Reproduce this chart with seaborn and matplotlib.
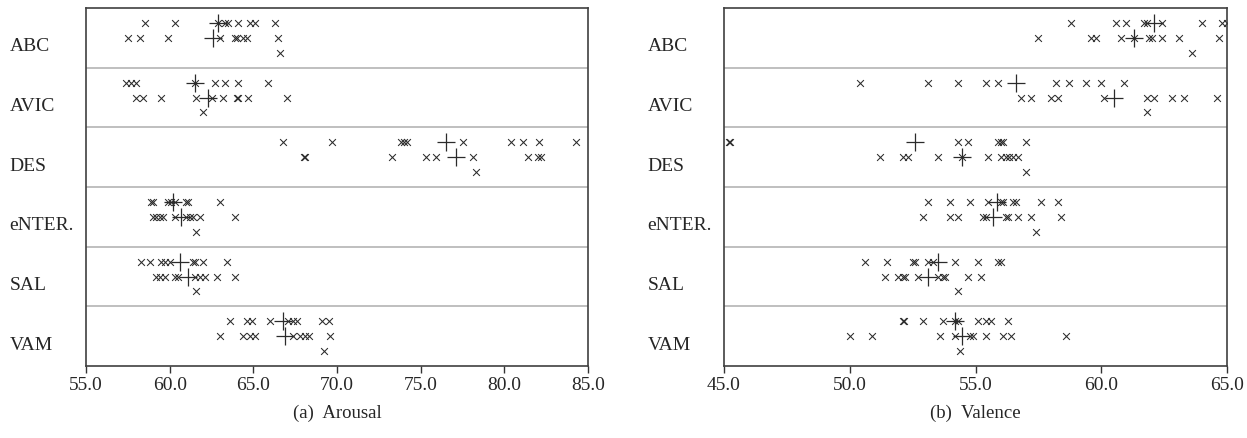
import numpy as np
import pandas as pd
import matplotlib
matplotlib.use('Agg')
import matplotlib.pyplot as plt
import seaborn as sns

categories = ['ABC', 'AVIC', 'DES', 'eNTER.', 'SAL', 'VAM']

# individual results (x markers), three rows per category
arousal_points = {
    'ABC':    [[58.5, 60.3, 62.9, 63.3, 63.5, 64.1, 64.8, 65.1, 66.3],
               [57.5, 58.2, 59.9, 63.0, 63.9, 64.0, 64.4, 64.6, 66.5],
               [66.6]],
    'AVIC':   [[57.4, 57.7, 58.0, 61.5, 62.7, 63.3, 64.1, 65.9],
               [58.0, 58.4, 59.5, 61.6, 62.5, 63.2, 64.0, 64.1, 64.7, 67.0],
               [62.0]],
    'DES':    [[66.8, 69.7, 73.8, 74.0, 74.2, 77.5, 80.4, 81.1, 82.1, 84.3],
               [68.0, 68.1, 73.3, 75.3, 75.9, 78.1, 81.4, 82.0, 82.2],
               [78.3]],
    'eNTER.': [[58.9, 59.0, 59.9, 60.1, 60.3, 61.0, 61.1, 63.0],
               [59.0, 59.2, 59.4, 59.6, 60.3, 61.0, 61.2, 61.4, 61.8, 63.9],
               [61.6]],
    'SAL':    [[58.3, 58.8, 59.5, 59.7, 60.0, 61.4, 61.5, 62.0, 63.4],
               [59.2, 59.4, 59.7, 60.3, 60.5, 61.5, 61.8, 62.1, 62.8, 63.9],
               [61.6]],
    'VAM':    [[63.6, 64.6, 64.9, 66.0, 67.1, 67.4, 67.6, 69.1, 69.5],
               [63.0, 64.4, 64.8, 65.1, 67.4, 67.8, 68.1, 68.3, 69.6],
               [69.2]],
}
# averages (+ markers), rows 1 and 2
arousal_means = {
    'ABC': [62.9, 62.6], 'AVIC': [61.5, 62.3], 'DES': [76.5, 77.1],
    'eNTER.': [60.2, 60.7], 'SAL': [60.6, 61.1], 'VAM': [66.8, 66.9],
}

valence_points = {
    'ABC':    [[58.8, 60.6, 61.0, 61.7, 61.8, 62.4, 64.0, 64.8, 65.0],
               [57.5, 59.6, 59.8, 60.8, 61.3, 61.9, 62.0, 62.4, 63.1, 64.7],
               [63.6]],
    'AVIC':   [[50.4, 53.1, 54.3, 55.4, 55.9, 58.2, 58.7, 59.4, 60.0, 60.9],
               [56.8, 57.2, 58.0, 58.3, 60.1, 61.8, 62.1, 62.8, 63.3, 64.6],
               [61.8]],
    'DES':    [[45.2, 45.25, 54.3, 54.7, 55.9, 56.0, 56.1, 57.0],
               [51.2, 52.1, 52.3, 53.5, 54.45, 55.5, 56.0, 56.2, 56.35, 56.5, 56.7],
               [57.0]],
    'eNTER.': [[53.1, 54.0, 54.8, 55.5, 56.0, 56.1, 56.5, 56.6, 57.6, 58.3],
               [52.9, 54.0, 54.3, 55.3, 55.4, 56.2, 56.3, 56.7, 57.2, 58.4],
               [57.4]],
    'SAL':    [[50.6, 51.5, 52.5, 52.6, 53.1, 53.3, 54.2, 55.1, 55.9, 56.0],
               [51.4, 51.9, 52.1, 52.2, 52.7, 53.5, 53.7, 53.8, 54.7, 55.2],
               [54.3]],
    'VAM':    [[52.1, 52.15, 52.9, 53.7, 54.2, 54.3, 55.1, 55.4, 55.6, 56.3],
               [50.0, 50.9, 53.6, 54.2, 54.8, 54.9, 55.4, 56.1, 56.4, 58.6],
               [54.4]],
}
valence_means = {
    'ABC': [62.1, 61.3], 'AVIC': [56.6, 60.5], 'DES': [52.6, 54.45],
    'eNTER.': [55.85, 55.7], 'SAL': [53.5, 53.1], 'VAM': [54.2, 54.45],
}

arousal_ticks = [55.0, 60.0, 65.0, 70.0, 75.0, 80.0, 85.0]
valence_ticks = [45.0, 50.0, 55.0, 60.0, 65.0]
captions = ['(a)  Arousal', '(b)  Valence']

row_offset = [-0.25, 0.0, 0.25]


def to_frame(points, means):
    recs = []
    for ci, cat in enumerate(categories):
        for ri, row in enumerate(points[cat]):
            for v in row:
                recs.append({'cat': cat, 'value': v, 'y': ci + row_offset[ri], 'kind': 'x'})
        for ri, v in enumerate(means[cat]):
            recs.append({'cat': cat, 'value': v, 'y': ci + row_offset[ri], 'kind': '+'})
    return pd.DataFrame(recs)


sns.set_style('white')
plt.rcParams['font.family'] = ['Liberation Serif', 'DejaVu Serif']

fig = plt.figure(figsize=(12.47, 4.39), dpi=100)
ax1 = fig.add_axes([86 / 1247, 1 - 367 / 439, 502 / 1247, 358 / 439])
ax2 = fig.add_axes([724 / 1247, 1 - 367 / 439, 503 / 1247, 358 / 439])

panels = [
    (ax1, to_frame(arousal_points, arousal_means), arousal_ticks, captions[0]),
    (ax2, to_frame(valence_points, valence_means), valence_ticks, captions[1]),
]

mark_col = '#2b2b2b'
for ax, df, ticks, cap in panels:
    for b in np.arange(len(categories) - 1) + 0.5:
        ax.axhline(b, color='#b4b4b4', lw=1.2, zorder=0)
    sns.scatterplot(data=df[df['kind'] == 'x'], x='value', y='y', marker='x',
                    s=24, color=mark_col, linewidth=0.75, ax=ax, legend=False)
    sns.scatterplot(data=df[df['kind'] == '+'], x='value', y='y', marker='+',
                    s=150, color=mark_col, linewidth=0.9, ax=ax, legend=False)
    ax.set_xlim(ticks[0], ticks[-1])
    ax.set_ylim(len(categories) - 0.5, -0.5)
    ax.set_xticks(ticks)
    ax.set_xticklabels([f'{t:.1f}' for t in ticks], fontsize=14)
    ax.set_yticks(np.arange(len(categories)) + 0.1)
    ax.set_yticklabels(categories, fontsize=14)
    for lab in ax.get_yticklabels():
        lab.set_horizontalalignment('left')
    ax.tick_params(axis='y', length=0, pad=55)
    ax.tick_params(axis='x', bottom=True, direction='out', length=5, width=1,
                   color='#333333', pad=2)
    ax.set_ylabel('')
    ax.set_xlabel(cap, fontsize=13.5, labelpad=8)
    for sp in ax.spines.values():
        sp.set_color('#404040')
        sp.set_linewidth(1.2)

fig.savefig('out.png', dpi=100)
